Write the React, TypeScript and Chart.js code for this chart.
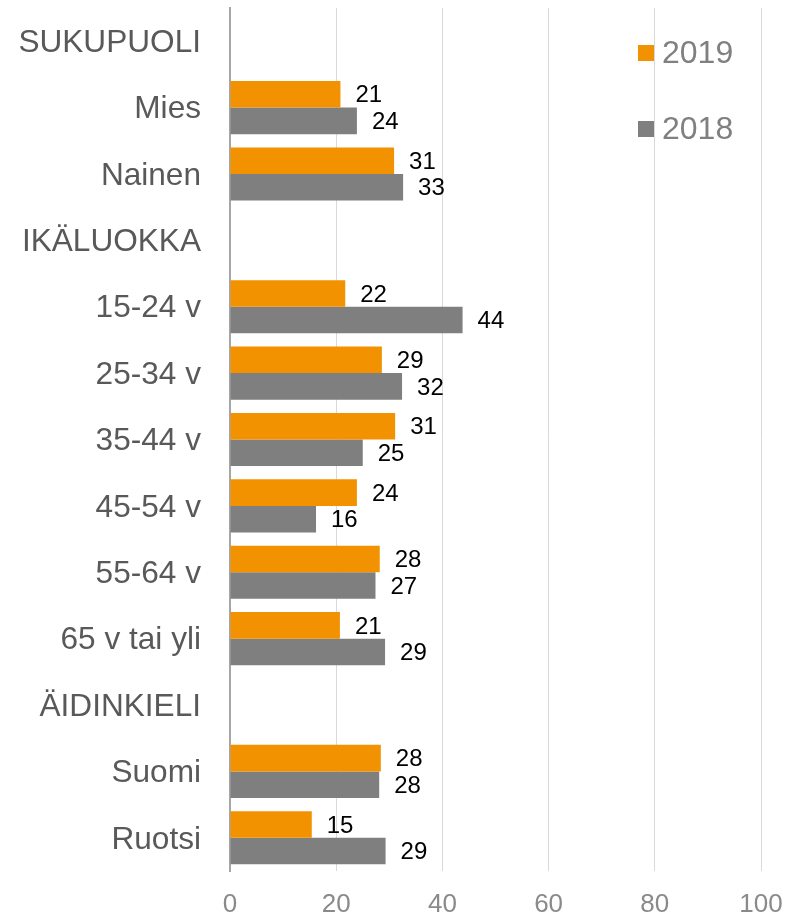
import { useEffect, useRef } from "react";
import { Chart, registerables } from "chart.js";

Chart.register(...registerables);

const categories = [
  "SUKUPUOLI",
  "Mies",
  "Nainen",
  "IKÄLUOKKA",
  "15-24 v",
  "25-34 v",
  "35-44 v",
  "45-54 v",
  "55-64 v",
  "65 v tai yli",
  "ÄIDINKIELI",
  "Suomi",
  "Ruotsi",
];
const values2019 = [null, 20.8, 30.9, null, 21.7, 28.6, 31.1, 23.9, 28.2, 20.7, null, 28.4, 15.4];
const values2018 = [null, 23.9, 32.6, null, 43.8, 32.4, 25.0, 16.2, 27.4, 29.2, null, 28.1, 29.3];
const seriesLabels = ["2019", "2018"];
const seriesColors = ["#F39200", "#7F7F7F"];
const xMin = 0;
const xMax = 100;
const xStep = 20;

const FONT = "'Liberation Sans', Arial, Helvetica, sans-serif";

const dataLabelPlugin = {
  id: "dataLabels",
  afterDatasetsDraw(chart: any) {
    const ctx = chart.ctx;
    ctx.save();
    ctx.font = `24px ${FONT}`;
    ctx.fillStyle = "#000000";
    ctx.textAlign = "left";
    ctx.textBaseline = "middle";
    chart.data.datasets.forEach((ds: any, di: number) => {
      const meta = chart.getDatasetMeta(di);
      meta.data.forEach((bar: any, i: number) => {
        const v = ds.data[i];
        if (v === null || v === undefined) return;
        ctx.fillText(String(Math.round(v)), bar.x + 15, bar.y + 1.5);
      });
    });
    ctx.restore();
  },
};

const legendPlugin = {
  id: "insideLegend",
  afterDraw(chart: any) {
    const ctx = chart.ctx;
    const area = chart.chartArea;
    const boxX = area.right - 123;
    const firstY = area.top + 45;
    const gap = 76;
    const box = 16;
    ctx.save();
    ctx.font = `32px ${FONT}`;
    ctx.textAlign = "left";
    ctx.textBaseline = "middle";
    chart.data.datasets.forEach((ds: any, i: number) => {
      const cy = firstY + i * gap;
      ctx.fillStyle = ds.backgroundColor;
      ctx.fillRect(boxX, cy - box / 2, box, box);
      ctx.fillStyle = "#808080";
      ctx.fillText(ds.label, boxX + 24, cy + 1);
    });
    ctx.restore();
  },
};

export default function App() {
  const ref = useRef<HTMLCanvasElement>(null);

  useEffect(() => {
    document.body.style.margin = "0";
    const canvas = ref.current;
    if (!canvas) return;
    const chart = new Chart(canvas, {
      type: "bar",
      data: {
        labels: categories,
        datasets: [
          {
            label: seriesLabels[0],
            data: values2019,
            backgroundColor: seriesColors[0],
            borderWidth: 0,
          },
          {
            label: seriesLabels[1],
            data: values2018,
            backgroundColor: seriesColors[1],
            borderWidth: 0,
          },
        ],
      },
      options: {
        indexAxis: "y",
        responsive: false,
        maintainAspectRatio: false,
        animation: false,
        layout: { padding: { top: 8, right: 29, left: 0, bottom: 0 } },
        datasets: { bar: { categoryPercentage: 0.8, barPercentage: 1.0 } },
        plugins: {
          legend: { display: false },
          tooltip: { enabled: false },
        },
        scales: {
          x: {
            min: xMin,
            max: xMax,
            ticks: {
              stepSize: xStep,
              color: "#8a8a8a",
              font: { size: 26, family: FONT },
              padding: 18,
              maxRotation: 0,
            },
            grid: {
              color: (c: any) => (c.tick && c.tick.value === 0 ? "rgba(0,0,0,0)" : "#d9d9d9"),
              lineWidth: 1,
              drawTicks: false,
            },
            border: { display: false },
            afterFit: (s: any) => {
              s.height = 45;
              s.paddingLeft = 0;
              s.paddingRight = 0;
            },
          },
          y: {
            ticks: {
              color: "#595959",
              font: { size: 31.6, family: FONT },
              padding: 29,
              labelOffset: 2,
              autoSkip: false,
            },
            grid: { display: false, drawTicks: false },
            border: { display: true, color: "#a6a6a6", width: 2 },
            afterFit: (s: any) => {
              s.width = 230;
              s.paddingTop = 0;
              s.paddingBottom = 0;
            },
          },
        },
      } as any,
      plugins: [dataLabelPlugin, legendPlugin],
    });
    return () => chart.destroy();
  }, []);

  return (
    <div style={{ width: 790, height: 916 }}>
      <canvas ref={ref} width={790} height={916} style={{ display: "block", width: 790, height: 916 }} />
    </div>
  );
}
